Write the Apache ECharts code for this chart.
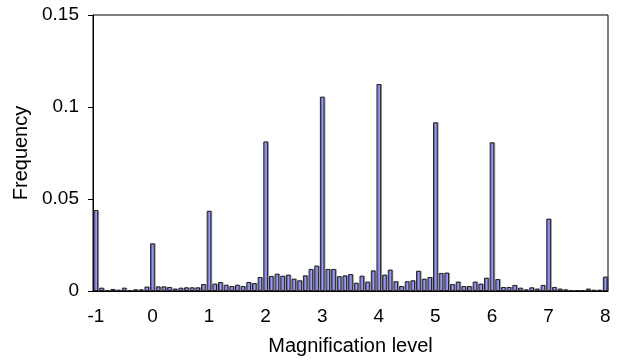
<!DOCTYPE html>
<html>
<head>
<meta charset="utf-8">
<script src="https://cdn.jsdelivr.net/npm/echarts@6/dist/echarts.min.js"></script>
<style>
  html, body { margin: 0; padding: 0; background: #fff; }
  #chart { width: 617px; height: 362px; }
</style>
</head>
<body>
<div id="chart"></div>
<script>
// magnification level bins, step 0.1
const levels = [
  "-1", "-0.9", "-0.8", "-0.7", "-0.6", "-0.5", "-0.4", "-0.3", "-0.2", "-0.1",
  "0", "0.1", "0.2", "0.3", "0.4", "0.5", "0.6", "0.7", "0.8", "0.9",
  "1", "1.1", "1.2", "1.3", "1.4", "1.5", "1.6", "1.7", "1.8", "1.9",
  "2", "2.1", "2.2", "2.3", "2.4", "2.5", "2.6", "2.7", "2.8", "2.9",
  "3", "3.1", "3.2", "3.3", "3.4", "3.5", "3.6", "3.7", "3.8", "3.9",
  "4", "4.1", "4.2", "4.3", "4.4", "4.5", "4.6", "4.7", "4.8", "4.9",
  "5", "5.1", "5.2", "5.3", "5.4", "5.5", "5.6", "5.7", "5.8", "5.9",
  "6", "6.1", "6.2", "6.3", "6.4", "6.5", "6.6", "6.7", "6.8", "6.9",
  "7", "7.1", "7.2", "7.3", "7.4", "7.5", "7.6", "7.7", "7.8", "7.9",
  "8"
];
const frequency = [
  0.044, 0.0018, 0.0003, 0.0011, 0.0007, 0.0018, 0.0005, 0.0009, 0.0009, 0.0024,
  0.0259, 0.0025, 0.0025, 0.0022, 0.0013, 0.0018, 0.002, 0.002, 0.002, 0.0038,
  0.0436, 0.004, 0.0049, 0.0034, 0.0027, 0.0034, 0.0027, 0.0049, 0.0043, 0.0076,
  0.0813, 0.0082, 0.0094, 0.0083, 0.0089, 0.0067, 0.0058, 0.0085, 0.012, 0.0138,
  0.1056, 0.012, 0.012, 0.008, 0.0085, 0.0092, 0.0045, 0.0083, 0.0051, 0.0112,
  0.1125, 0.0089, 0.0116, 0.0053, 0.0027, 0.0053, 0.0058, 0.011, 0.0067, 0.0076,
  0.0917, 0.0098, 0.01, 0.0038, 0.0051, 0.0027, 0.0027, 0.0051, 0.004, 0.0072,
  0.0808, 0.0065, 0.0022, 0.0022, 0.0033, 0.0018, 0.0009, 0.002, 0.0013, 0.0033,
  0.0393, 0.0022, 0.0013, 0.0009, 0.0005, 0.0005, 0.0005, 0.0013, 0.0007, 0.0007,
  0.0078
];
const xTickLabels = ["-1", "0", "1", "2", "3", "4", "5", "6", "7", "8"];
const yTicks = [0, 0.05, 0.1, 0.15];

const font = "'Liberation Sans', Arial, sans-serif";
const chart = echarts.init(document.getElementById("chart"));

chart.setOption({
  animation: false,
  grid: {
    left: 93, right: 9, top: 15, bottom: 71,
    show: true, borderColor: "#000", borderWidth: 1, backgroundColor: "transparent"
  },
  xAxis: {
    type: "category",
    data: levels,
    boundaryGap: true,
    name: "Magnification level",
    nameLocation: "middle",
    nameGap: 45,
    nameTextStyle: { fontFamily: font, fontSize: 20, color: "#000" },
    axisLine: { lineStyle: { color: "#000", width: 1 } },
    axisTick: {
      inside: true, length: 5,
      interval: (i) => i % 10 === 0,
      lineStyle: { color: "#000" }
    },
    axisLabel: {
      interval: (i, v) => xTickLabels.indexOf(v) >= 0,
      margin: 16,
      fontFamily: font, fontSize: 19, color: "#000"
    },
    splitLine: { show: false }
  },
  yAxis: {
    type: "value",
    min: yTicks[0],
    max: yTicks[yTicks.length - 1],
    interval: 0.05,
    name: "Frequency",
    nameLocation: "middle",
    nameGap: 60,
    nameTextStyle: { fontFamily: font, fontSize: 20, color: "#000" },
    axisLine: { show: true, lineStyle: { color: "#000", width: 1 } },
    axisTick: { show: true, inside: false, length: 5, lineStyle: { color: "#000" } },
    axisLabel: { margin: 14, fontFamily: font, fontSize: 19, color: "#000" },
    splitLine: { show: false }
  },
  series: [{
    type: "bar",
    data: frequency,
    barCategoryGap: "18%",
    itemStyle: {
      color: "#9999ff",
      borderColor: "#222",
      borderWidth: 1,
      shadowColor: "rgba(0,0,0,0.3)",
      shadowOffsetX: 1,
      shadowOffsetY: 0,
      shadowBlur: 0
    }
  }]
});
</script>
</body>
</html>
